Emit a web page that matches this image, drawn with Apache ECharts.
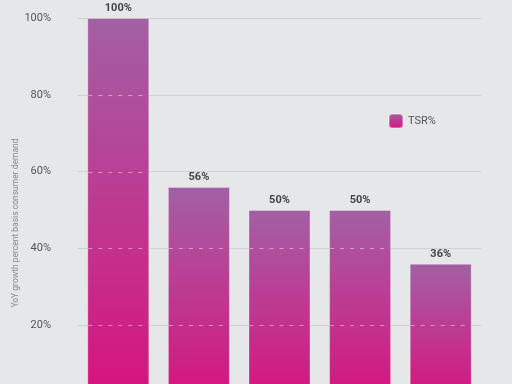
<!DOCTYPE html>
<html><head><meta charset="utf-8">
<script src="https://cdn.jsdelivr.net/npm/echarts@6/dist/echarts.min.js"></script>
<style>html,body{margin:0;padding:0;background:#e6e7e9}#c{width:512px;height:384px}</style>
</head><body><div id="c"></div>
<script>
const categories = ['A', 'B', 'C', 'D', 'E'];
const tsrValues = [100, 56, 50, 50, 36];
const yTicks = [20, 40, 60, 80, 100];
const seriesName = 'TSR%';
const yAxisName = 'YoY growth percent basis consumer demand';

const BAR_W = 62;
const chart = echarts.init(document.getElementById('c'), null, {renderer: 'canvas'});
const grad = new echarts.graphic.LinearGradient(0, 0, 0, 1, [
  {offset: 0, color: '#a360a4'},
  {offset: 1, color: '#d8127e'}
]);
chart.setOption({
  backgroundColor: '#e6e7e9',
  animation: false,
  legend: {
    left: 388, top: 113, padding: 0, itemWidth: 14, itemHeight: 14, itemGap: 6,
    textStyle: {color: '#555', fontSize: 11, fontFamily: 'Roboto'},
    data: [seriesName]
  },
  grid: {left: 78, width: 403, top: 18, height: 384, outerBoundsMode: 'none', containLabel: false},
  xAxis: {
    type: 'category', data: categories,
    axisLine: {show: false}, axisTick: {show: false}, axisLabel: {show: false}
  },
  yAxis: {
    type: 'value', min: 0, max: 100, interval: 20,
    name: yAxisName, nameLocation: 'middle', nameGap: 58, nameRotate: 90, nameMoveOverlap: false,
    nameTextStyle: {color: '#8a8a8a', fontSize: 8.5, fontFamily: 'Roboto', padding: [0, 26, 0, 0]},
    axisLabel: {formatter: v => v === 0 ? '' : v + '%', color: '#555', fontSize: 11, fontFamily: 'Roboto', margin: 27},
    axisLine: {show: false}, axisTick: {show: false},
    splitLine: {lineStyle: {color: '#d0d1d3', width: 1}}
  },
  series: [{
    name: seriesName, type: 'bar', data: tsrValues, barWidth: BAR_W,
    itemStyle: {color: grad, borderColor: 'rgba(255,255,255,0.3)', borderWidth: 1},
    label: {show: true, position: 'top', formatter: '{c}%', color: '#444', fontWeight: 'bold', fontSize: 11, fontFamily: 'Roboto', distance: 4}
  }, {
    name: 'dash', type: 'custom', silent: true, z: 5,
    data: tsrValues.map((v, i) => [i, v]),
    renderItem: function (params, api) {
      const idx = api.value(0), val = api.value(1);
      const children = [];
      yTicks.forEach(t => {
        if (t < val) {
          const p = api.coord([idx, t]);
          const y = Math.round(p[1]) + 0.5;
          children.push({type: 'line', shape: {x1: p[0] - BAR_W / 2 + 1, y1: y, x2: p[0] + BAR_W / 2 - 1, y2: y},
            style: {stroke: 'rgba(255,255,255,0.45)', lineDash: [4, 6], lineWidth: 1}});
        }
      });
      return {type: 'group', children: children};
    }
  }]
});
</script></body></html>
